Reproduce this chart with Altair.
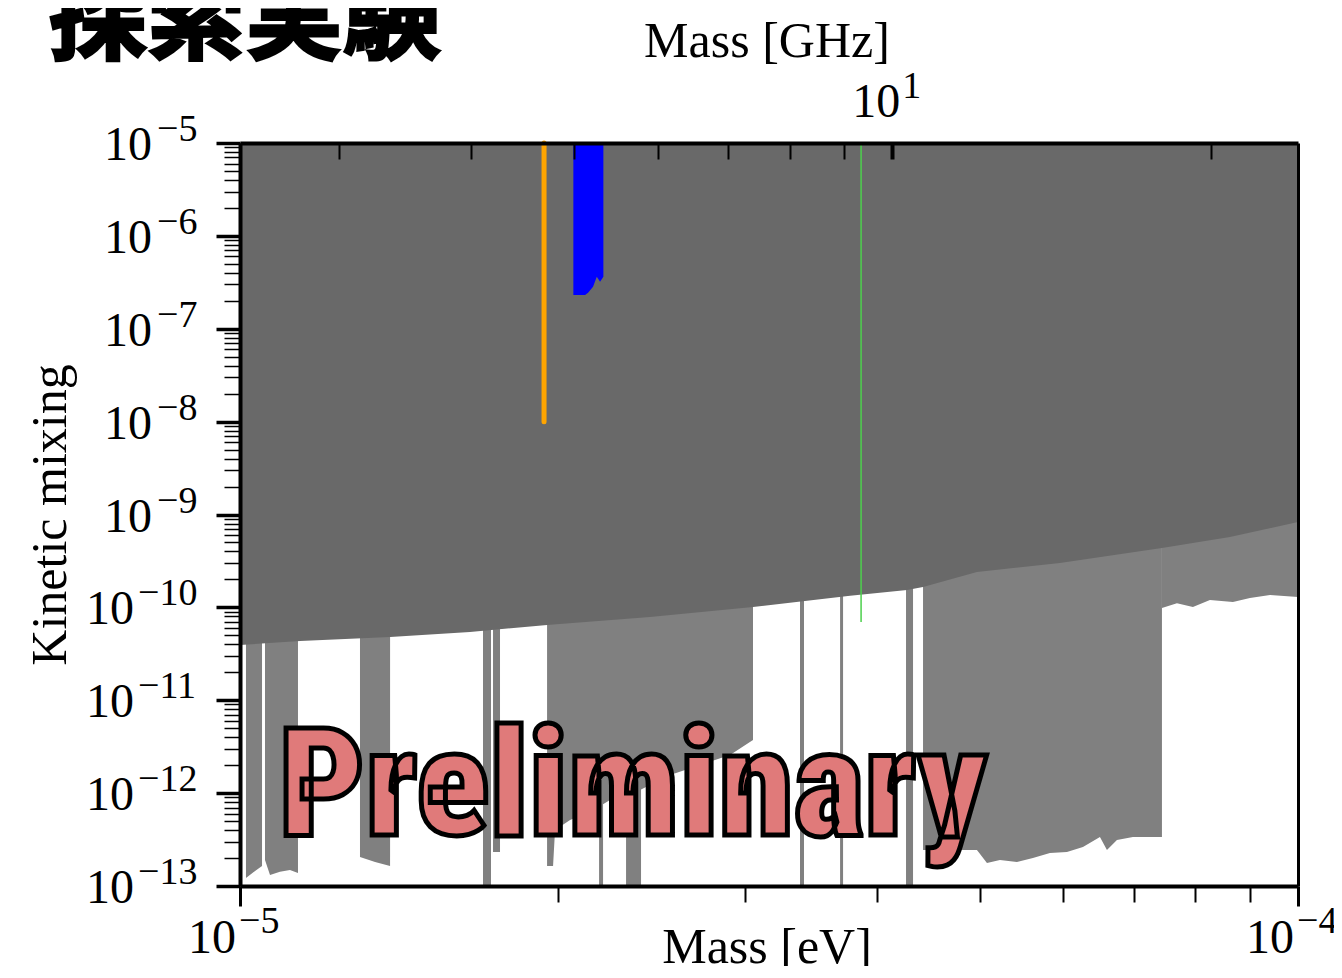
import altair as alt
import pandas as pd

# ---------------- axes domains ----------------
X_DOMAIN = [1e-5, 1e-4]      # Mass [eV]
Y_DOMAIN = [1e-13, 1e-5]     # Kinetic mixing
EV_PER_GHZ = 4.135667e-6

# ---------------- tick values / labels ----------------
x_major = [1e-5, 1e-4]
x_exps = ["\u22125", "\u22124"]
x_minor = [2e-5, 3e-5, 4e-5, 5e-5, 6e-5, 7e-5, 8e-5, 9e-5]
y_major = [1e-5, 1e-6, 1e-7, 1e-8, 1e-9, 1e-10, 1e-11, 1e-12, 1e-13]
y_exps = ["\u22125", "\u22126", "\u22127", "\u22128", "\u22129",
          "\u221210", "\u221211", "\u221212", "\u221213"]
y_minor = [k * 10.0 ** d for d in range(-13, -5) for k in range(2, 10)]
ghz_ticks = [3, 4, 5, 6, 7, 8, 9, 10, 20]
ghz_label_ticks = [10]
ghz_label_exps = ["1"]

# ---------------- dark grey excluded region (lower boundary) ----------------
dark_mass = [1.0e-5, 1.1395e-5, 1.3863e-5, 1.6496e-5, 1.9509e-5, 2.4410e-5,
             3.0541e-5, 3.7726e-5, 4.2703e-5, 4.4217e-5, 4.9722e-5, 5.9564e-5,
             7.4371e-5, 8.6234e-5, 1.0e-4]
dark_eps = [3.94e-11, 4.35e-11, 4.80e-11, 5.43e-11, 6.46e-11, 7.88e-11,
            1.01e-10, 1.33e-10, 1.54e-10, 1.66e-10, 2.40e-10, 3.01e-10,
            4.36e-10, 5.73e-10, 8.30e-10]

# ---------------- light grey excluded bands (lower boundaries) ----------------
band_a1_mass = [1.0131e-5, 1.0310e-5, 1.0491e-5]
band_a1_eps = [1.22e-13, 1.42e-13, 1.64e-13]
band_a2_mass = [1.0559e-5, 1.0675e-5, 1.0909e-5, 1.1149e-5, 1.1345e-5]
band_a2_eps = [1.91e-13, 1.31e-13, 1.42e-13, 1.49e-13, 1.38e-13]
band_b_mass = [1.2984e-5, 1.3418e-5, 1.3863e-5]
band_b_eps = [2.05e-13, 1.81e-13, 1.64e-13]
band_c1_mass = [1.6970e-5, 1.7268e-5]
band_c1_eps = [1e-13, 1e-13]
band_c2_mass = [1.7344e-5, 1.7610e-5]
band_c2_eps = [2.32e-13, 2.32e-13]
band_d_mass = [1.9509e-5, 1.9765e-5, 1.9851e-5, 2.0510e-5, 2.1423e-5, 2.2376e-5,
               2.3884e-5, 2.5499e-5, 2.7216e-5, 2.9050e-5, 3.0541e-5]
band_d_eps = [1.64e-13, 1.64e-13, 4.01e-13, 5.14e-13, 6.26e-13, 8.43e-13,
              1.08e-12, 1.57e-12, 2.01e-12, 2.57e-12, 3.73e-12]
band_d2_mass = [2.1847e-5, 2.2037e-5]
band_d2_eps = [1e-13, 1e-13]
band_d3_mass = [2.3168e-5, 2.3936e-5]
band_d3_eps = [1e-13, 1e-13]
band_e_mass = [3.3830e-5, 3.4126e-5]
band_e_eps = [1e-13, 1e-13]
band_f_mass = [3.6913e-5, 3.7154e-5]
band_f_eps = [1e-13, 1e-13]
band_g_mass = [4.2610e-5, 4.3265e-5]
band_g_eps = [1e-13, 1e-13]
band_h_mass = [4.4217e-5, 4.9722e-5, 5.0816e-5, 5.2274e-5, 5.4243e-5, 5.6165e-5,
               5.8280e-5, 6.0480e-5, 6.2624e-5, 6.4983e-5, 6.5982e-5, 6.7433e-5,
               6.9823e-5, 7.2453e-5, 7.4371e-5]
band_h_eps = [2.44e-13, 2.44e-13, 1.77e-13, 1.91e-13, 1.81e-13, 2.00e-13,
              2.26e-13, 2.32e-13, 2.63e-13, 3.37e-13, 2.44e-13, 3.13e-13,
              3.37e-13, 3.37e-13, 3.37e-13]
band_i_mass = [7.4371e-5, 7.6839e-5, 7.9560e-5, 8.2555e-5, 8.6798e-5, 9.0070e-5,
               9.4089e-5, 1.0e-4]
band_i_eps = [9.84e-11, 1.11e-10, 1.01e-10, 1.20e-10, 1.14e-10, 1.26e-10,
              1.36e-10, 1.29e-10]

# ---------------- search results ----------------
blue_mass = [2.0658e-5, 2.1191e-5, 2.1329e-5, 2.1562e-5, 2.1738e-5, 2.1894e-5, 2.2052e-5]
blue_eps = [2.31e-7, 2.31e-7, 2.44e-7, 2.84e-7, 3.63e-7, 3.21e-7, 3.63e-7]
orange_mass = [1.9381e-5]
orange_eps = [1e-8]
green_mass = [3.8640e-5]
green_eps = [6.97e-11]

# ---------------- texts ----------------
title_text = "探索実験"
x_title = "Mass [eV]"
x2_title = "Mass [GHz]"
y_title = "Kinetic mixing"
watermark = "Preliminary"

SERIF = "Liberation Serif"
TOP = 1e-5

# ---------------- tables ----------------
bands = [("a1", band_a1_mass, band_a1_eps), ("a2", band_a2_mass, band_a2_eps),
         ("b", band_b_mass, band_b_eps), ("c1", band_c1_mass, band_c1_eps),
         ("c2", band_c2_mass, band_c2_eps), ("d", band_d_mass, band_d_eps),
         ("d2", band_d2_mass, band_d2_eps), ("d3", band_d3_mass, band_d3_eps),
         ("e", band_e_mass, band_e_eps), ("f", band_f_mass, band_f_eps),
         ("g", band_g_mass, band_g_eps), ("h", band_h_mass, band_h_eps),
         ("i", band_i_mass, band_i_eps)]
band_rows = []
for name, ms, es in bands:
    for m, e in zip(ms, es):
        band_rows.append({"band": name, "m": m, "eps": e})
bands_df = pd.DataFrame(band_rows)
dark_df = pd.DataFrame({"m": dark_mass, "eps": dark_eps})
blue_df = pd.DataFrame({"m": blue_mass, "eps": blue_eps})
orange_df = pd.DataFrame({"m": orange_mass, "eps": orange_eps})
green_df = pd.DataFrame({"m": green_mass, "eps": green_eps})

xscale = alt.Scale(type="log", domain=X_DOMAIN)
yscale = alt.Scale(type="log", domain=Y_DOMAIN)


def X(field="m", axis=None):
    return alt.X(f"{field}:Q", scale=xscale, axis=axis)


def Y(field="eps", axis=None):
    return alt.Y(f"{field}:Q", scale=yscale, axis=axis)


AX = dict(grid=False, labels=False, title=None, tickColor="black",
          domainColor="black", zindex=1)

x_minor_axis = alt.Axis(orient="bottom", values=x_minor, tickSize=16, tickWidth=2,
                        domain=False, **AX)
x_major_axis = alt.Axis(orient="bottom", values=x_major, tickSize=20, tickWidth=3,
                        domain=True, domainWidth=4, **AX)
y_minor_axis = alt.Axis(orient="left", values=y_minor, tickSize=16, tickWidth=1.5,
                        domain=False, **AX)
y_major_axis = alt.Axis(orient="left", values=y_major, tickSize=24, tickWidth=3.5,
                        domain=True, domainWidth=4, **AX)
top_frame_axis = alt.Axis(orient="top", ticks=False, values=[], domain=True,
                          domainWidth=4, **AX)
right_frame_axis = alt.Axis(orient="right", ticks=False, values=[], domain=True,
                            domainWidth=3, **AX)
ghz_axis = alt.Axis(orient="top", values=[g * EV_PER_GHZ for g in ghz_ticks],
                    offset=-16, tickSize=16,
                    tickWidth={"condition": {"test": "datum.value > 4.0e-5 && datum.value < 4.3e-5",
                                             "value": 4},
                               "value": 2},
                    domain=False, **AX)

# ---------------- data layers ----------------
light = alt.Chart(bands_df).mark_area(color="#808080", opacity=1).encode(
    x=X(axis=x_minor_axis), y=Y(axis=y_minor_axis), y2=alt.datum(TOP), detail="band:N")

dark = alt.Chart(dark_df).mark_area(color="#696969", opacity=1).encode(
    x=X(axis=x_major_axis), y=Y(axis=y_major_axis), y2=alt.datum(TOP))

blue = alt.Chart(blue_df).mark_area(color="#0000ff", opacity=1).encode(
    x=X(axis=top_frame_axis), y=Y(axis=right_frame_axis), y2=alt.datum(TOP))

orange = alt.Chart(orange_df).mark_rule(color="#ffa500", strokeWidth=5, strokeCap="round").encode(
    x=X(axis=ghz_axis), y=Y(), y2=alt.datum(TOP))

green = alt.Chart(green_df).mark_rule(color="#4ccf4c", strokeWidth=1.5).encode(
    x=X(), y=Y(), y2=alt.datum(TOP))

# ---------------- tick labels ----------------
ylab = pd.DataFrame({"v": y_major, "base": ["10"] * len(y_major), "exp": y_exps})
ylab1 = ylab[ylab["exp"].str.len() == 2]
ylab2 = ylab[ylab["exp"].str.len() == 3]
xlab = pd.DataFrame({"v": x_major, "base": ["10"] * len(x_major), "exp": x_exps})
toplab = pd.DataFrame({"v": [g * EV_PER_GHZ for g in ghz_label_ticks],
                       "base": ["10"] * len(ghz_label_ticks), "exp": ghz_label_exps})

BASE_FS = 48
EXP_FS = 38


def base_text(df, **kw):
    return alt.Chart(df).mark_text(font=SERIF, fontSize=BASE_FS, color="black",
                                   baseline="alphabetic", **kw)


def exp_text(df, **kw):
    return alt.Chart(df).mark_text(font=SERIF, fontSize=EXP_FS, color="black",
                                   baseline="alphabetic", **kw)


ylab_layers = [
    base_text(ylab1, align="right", dy=17).encode(x=alt.value(-88), y=Y("v"), text="base:N"),
    exp_text(ylab1, align="left", dy=-2).encode(x=alt.value(-83), y=Y("v"), text="exp:N"),
    base_text(ylab2, align="right", dy=17).encode(x=alt.value(-106), y=Y("v"), text="base:N"),
    exp_text(ylab2, align="left", dy=-2).encode(x=alt.value(-102), y=Y("v"), text="exp:N"),
]
xlab_layers = [
    base_text(xlab, align="right", dx=-4).encode(x=X("v"), y=alt.value(810), text="base:N"),
    exp_text(xlab, align="left", dx=-1).encode(x=X("v"), y=alt.value(790), text="exp:N"),
    base_text(toplab, align="right", dx=8).encode(x=X("v"), y=alt.value(-26), text="base:N"),
    exp_text(toplab, align="left", dx=10).encode(x=X("v"), y=alt.value(-45), text="exp:N"),
]

# ---------------- titles ----------------
def label(txt, x, y, **kw):
    return alt.Chart(pd.DataFrame({"t": [txt]})).mark_text(baseline="alphabetic", **kw).encode(
        x=alt.value(x), y=alt.value(y), text="t:N")


WATERMARK_FONT = ("'Roboto Condensed', 'Noto Sans Condensed', 'Open Sans Condensed', "
                  "'Liberation Sans Narrow', 'DejaVu Sans Condensed', Roboto, sans-serif")

titles = [
    label(x2_title, 527, -86, font=SERIF, fontSize=50, align="center", color="black"),
    label(x_title, 527, 820, font=SERIF, fontSize=50, align="center", color="black"),
    label(y_title, -174, 372, font=SERIF, fontSize=50, align="center", angle=270, color="black"),
    label(title_text, -191, -92, font="Noto Sans CJK JP", fontSize=98, fontWeight="bold",
          align="left", color="black", stroke="black", strokeWidth=3),
    label(watermark, 393, 692, font=WATERMARK_FONT,
          fontSize=151, fontWeight=900, align="center", color="#e07a7a",
          stroke="black", strokeWidth=5),
]

chart = alt.layer(
    light, dark, blue, orange, green, *ylab_layers, *xlab_layers, *titles
).resolve_axis(x="independent", y="independent").properties(
    width=1058, height=743,
    autosize=alt.AutoSizeParams(type="none"),
    padding={"left": 232, "top": 135, "right": 36, "bottom": 80},
    background="white",
).configure_view(stroke="transparent")

chart.save("out.html", embed_options={"renderer": "svg", "actions": False})
